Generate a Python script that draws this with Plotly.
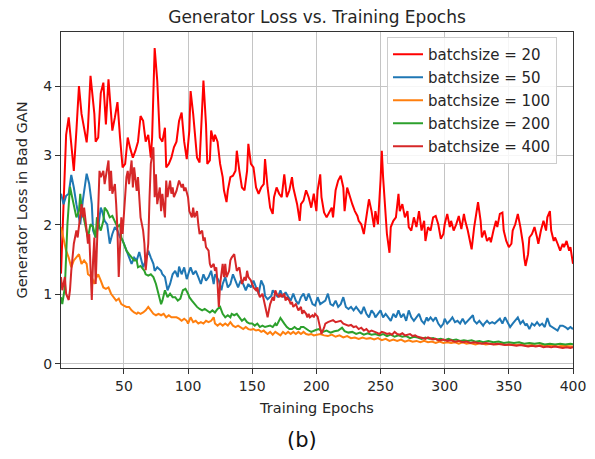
import plotly.graph_objects as go

# ---------------- data (epoch, loss) ----------------
bs20 = [(1,1.30),(3,2.20),(5,3.30),(7,3.55),(9,3.17),(11,2.78),(13,3.36),(15,4.00),(17,3.60),(19,3.40),
        (21,3.19),(22,3.40),(24,4.15),(27,3.60),(28,3.20),(30,3.26),(32,3.90),(34,4.05),(36,3.45),(38,4.10),
        (40,3.60),(41,3.36),(43,3.55),(45,3.77),(47,3.26),(49,2.83),(51,2.88),(53,3.26),(55,3.10),(57,2.97),
        (59,3.07),(61,3.20),(63,3.57),(65,3.50),(67,3.20),(69,3.30),(71,2.97),(72,3.26),(74,4.55),(76,4.08),
        (78,3.26),(80,3.20),(82,3.40),(83,2.83),(85,2.88),(87,2.97),(89,3.12),(91,3.20),(93,3.50),(95,3.62),
        (97,3.20),(99,2.95),(101,3.36),(102,3.93),(104,3.60),(105,3.36),(107,2.97),(109,2.90),(111,3.84),(112,4.08),
        (114,3.45),(115,2.88),(117,2.93),(118,3.36),(120,3.20),(121,3.30),(123,3.20),(125,2.88),(127,2.69),(128,2.50),
        (130,2.33),(131,2.50),(133,2.69),(135,2.71),(137,2.78),(138,3.07),(140,2.78),(142,2.54),(144,2.50),(146,2.78),
        (147,3.17),(149,2.88),(151,2.83),(153,2.54),(155,2.45),(157,2.54),(159,2.59),(160,2.95),(162,2.54),(164,2.25),
        (166,2.16),(167,2.40),(169,2.54),(171,2.45),(173,2.40),(175,2.73),(177,2.40),(179,2.50),(181,2.69),(182,2.54),
        (185,2.30),(187,2.06),(188,2.30),(190,2.35),(192,2.50),(194,2.40),(196,2.25),(198,2.45),(200,2.20),(201,2.50),
        (203,2.73),(204,2.40),(206,2.18),(208,2.11),(210,2.18),(212,2.25),(213,2.11),(215,2.50),(217,2.64),(219,2.71),
        (221,2.54),(222,2.20),(224,2.54),(226,2.40),(228,2.30),(230,2.20),(232,2.13),(233,2.06),(235,2.01),(237,1.87),
        (239,2.11),(241,2.37),(243,2.20),(245,1.97),(246,2.20),(248,2.01),(250,2.64),(251,3.07),(252,2.69),(254,2.11),
        (255,1.87),(257,1.60),(258,1.97),(260,2.06),(262,2.11),(264,2.45),(265,2.20),(267,2.30),(269,2.11),(271,2.20),
        (272,1.97),(274,1.92),(276,2.11),(278,1.97),(280,2.20),(282,1.92),(284,2.06),(285,1.77),(287,1.97),(289,1.92),
        (291,2.11),(293,2.13),(295,2.01),(297,1.80),(299,1.87),(300,2.01),(302,2.16),(304,1.97),(305,2.06),(307,1.92),
        (309,2.01),(311,2.13),(313,1.94),(315,2.16),(316,2.06),(318,1.92),(320,1.73),(321,1.65),(323,1.97),(324,2.11),
        (326,2.33),(328,2.06),(329,1.82),(331,1.92),(333,1.77),(335,1.82),(336,1.75),(338,1.92),(340,2.06),(341,1.97),
        (343,2.16),(345,2.18),(346,1.92),(348,1.77),(350,1.68),(352,1.73),(353,1.92),(355,2.01),(357,2.16),(359,1.97),
        (361,1.73),(362,1.53),(363,1.41),(365,1.58),(366,1.82),(368,1.87),(370,1.97),(372,1.82),(373,1.73),(375,1.92),
        (377,2.06),(379,1.92),(380,2.11),(382,2.20),(383,1.92),(385,1.77),(386,1.82),(388,1.73),(390,1.63),(392,1.73),
        (393,1.68),(395,1.77),(397,1.63),(398,1.68),(400,1.44)]

bs50 = [(1,2.45),(3,2.30),(5,2.42),(7,2.45),(9,2.72),(11,2.54),(13,2.30),(15,2.11),(16,2.01),(18,2.35),
        (20,2.64),(21,2.74),(23,2.59),(25,2.30),(26,1.92),(28,1.82),(30,1.97),(32,2.25),(33,2.20),(35,2.06),
        (37,2.01),(39,1.73),(41,1.87),(43,1.97),(45,1.92),(47,1.82),(49,1.78),(50,1.73),(52,1.63),(54,1.53),
        (56,1.44),(58,1.53),(60,1.49),(62,1.61),(63,1.53),(65,1.39),(67,1.49),(69,1.63),(71,1.53),(73,1.44),
        (74,1.34),(76,1.39),(79,1.34),(80,1.29),(82,1.25),(84,1.06),(86,1.15),(88,1.29),(90,1.34),(92,1.25),
        (93,1.40),(95,1.29),(97,1.39),(99,1.22),(101,1.34),(102,1.39),(104,1.29),(106,1.34),(108,1.25),(110,1.15),
        (112,1.29),(114,1.20),(116,1.25),(118,1.34),(120,1.15),(121,1.29),(124,1.20),(126,1.06),(127,1.15),(129,1.25),
        (131,1.10),(133,1.15),(135,1.29),(137,1.20),(139,1.10),(141,1.20),(143,1.15),(145,1.06),(147,1.15),(149,1.10),
        (151,1.20),(153,1.10),(155,1.01),(157,1.20),(159,1.12),(160,0.98),(162,0.93),(165,0.98),(166,1.06),(168,1.01),
        (170,0.96),(172,1.06),(174,0.96),(176,1.03),(178,0.96),(180,0.91),(182,1.01),(184,0.91),(186,0.86),(188,0.96),
        (190,1.01),(192,0.91),(194,1.01),(195,0.96),(197,0.86),(199,0.84),(201,0.96),(203,0.86),(205,0.89),(207,0.91),
        (209,1.01),(211,0.86),(213,0.84),(215,0.91),(217,0.82),(219,0.86),(221,0.96),(223,0.82),(225,0.79),(227,0.82),
        (229,0.77),(231,0.82),(233,0.77),(235,0.72),(237,0.82),(239,0.72),(241,0.67),(243,0.77),(245,0.72),(246,0.67),
        (248,0.72),(250,0.77),(252,0.67),(254,0.72),(256,0.67),(258,0.62),(260,0.72),(262,0.67),(264,0.77),(266,0.67),
        (268,0.72),(270,0.62),(272,0.77),(274,0.67),(276,0.62),(278,0.67),(280,0.72),(282,0.62),(284,0.58),(286,0.67),
        (287,0.62),(289,0.67),(291,0.62),(293,0.67),(295,0.58),(297,0.53),(299,0.58),(300,0.65),(302,0.58),(304,0.62),
        (306,0.67),(308,0.60),(310,0.62),(312,0.58),(314,0.65),(316,0.58),(318,0.62),(320,0.65),(322,0.70),(323,0.62),
        (325,0.58),(327,0.62),(330,0.55),(331,0.58),(333,0.62),(335,0.58),(337,0.60),(339,0.58),(341,0.62),(343,0.65),
        (345,0.58),(347,0.67),(349,0.60),(351,0.53),(353,0.58),(355,0.62),(357,0.67),(359,0.58),(361,0.62),(363,0.55),
        (364,0.58),(366,0.50),(368,0.58),(370,0.55),(372,0.60),(374,0.55),(376,0.58),(378,0.53),(380,0.66),(382,0.55),
        (384,0.53),(386,0.50),(388,0.48),(390,0.55),(392,0.55),(394,0.53),(396,0.50),(398,0.53),(400,0.50)]

bs100 = [(1,1.97),(3,1.82),(5,1.63),(7,1.53),(9,1.39),(11,1.49),(13,1.53),(15,1.58),(17,1.44),(19,1.49),
         (21,1.44),(22,1.29),(25,1.25),(27,1.15),(28,1.22),(30,1.29),(32,1.20),(34,1.10),(36,1.08),(38,1.10),
         (40,1.01),(42,0.96),(44,0.91),(46,0.94),(48,0.86),(50,0.84),(52,0.82),(54,0.82),(56,0.77),(58,0.74),
         (60,0.72),(61,0.74),(63,0.72),(65,0.74),(67,0.77),(69,0.82),(71,0.77),(73,0.72),(75,0.70),(77,0.72),
         (79,0.70),(81,0.72),(83,0.67),(85,0.70),(87,0.67),(89,0.67),(91,0.67),(93,0.65),(95,0.62),(97,0.65),
         (99,0.62),(100,0.58),(102,0.67),(104,0.60),(106,0.62),(108,0.58),(110,0.60),(112,0.58),(114,0.62),(116,0.60),
         (118,0.62),(120,0.67),(121,0.58),(123,0.55),(125,0.58),(127,0.55),(129,0.58),(131,0.55),(133,0.60),(135,0.55),
         (137,0.53),(139,0.55),(141,0.53),(143,0.50),(145,0.53),(147,0.50),(149,0.49),(151,0.50),(153,0.48),(155,0.49),
         (157,0.46),(159,0.48),(160,0.46),(162,0.43),(164,0.46),(166,0.42),(168,0.46),(170,0.43),(172,0.41),(174,0.46),
         (176,0.43),(178,0.46),(180,0.43),(182,0.46),(184,0.43),(186,0.46),(188,0.43),(190,0.46),(192,0.43),(194,0.42),
         (196,0.43),(198,0.41),(200,0.42),(203,0.43),(206,0.41),(209,0.40),(212,0.42),(215,0.39),(218,0.41),(221,0.38),
         (224,0.40),(227,0.37),(230,0.38),(233,0.36),(236,0.38),(239,0.36),(242,0.37),(245,0.35),(248,0.37),(251,0.34),
         (254,0.36),(257,0.33),(260,0.35),(263,0.33),(266,0.35),(269,0.32),(272,0.34),(275,0.32),(278,0.33),(281,0.31),
         (284,0.33),(287,0.31),(290,0.32),(293,0.30),(296,0.32),(299,0.30),(302,0.31),(305,0.30),(308,0.31),(311,0.29),
         (314,0.31),(317,0.29),(320,0.30),(324,0.28),(328,0.30),(332,0.28),(336,0.29),(340,0.28),(344,0.29),(348,0.27),
         (352,0.28),(356,0.27),(360,0.28),(364,0.26),(368,0.27),(372,0.26),(376,0.27),(380,0.26),(384,0.27),(388,0.25),
         (392,0.26),(396,0.25),(400,0.25)]

bs200 = [(1,0.96),(2,0.86),(4,1.10),(5,1.68),(6,2.01),(8,2.55),(9,2.45),(11,2.30),(13,2.11),(15,2.20),
         (16,2.45),(17,2.25),(19,2.06),(21,1.92),(22,1.82),(24,2.01),(26,1.97),(28,1.82),(29,2.11),(31,1.97),
         (32,1.92),(34,2.06),(35,2.25),(37,2.20),(39,2.11),(41,2.13),(43,2.06),(45,1.97),(47,2.01),(48,1.82),
         (50,1.73),(52,1.63),(54,1.58),(56,1.53),(58,1.49),(60,1.49),(61,1.39),(63,1.41),(66,1.34),(67,1.29),
         (69,1.27),(71,1.29),(73,1.25),(75,1.15),(77,1.01),(79,0.86),(80,0.91),(82,1.06),(84,0.96),(86,1.01),
         (88,0.96),(90,0.96),(92,0.91),(94,0.94),(96,1.06),(98,1.08),(100,1.01),(101,0.96),(103,0.91),(105,0.86),
         (107,0.82),(109,0.79),(111,0.77),(113,0.79),(115,0.77),(117,0.74),(119,0.77),(121,0.74),(123,0.79),(125,0.82),
         (127,0.72),(129,0.67),(131,0.70),(133,0.67),(134,0.72),(136,0.70),(138,0.72),(140,0.67),(142,0.62),(144,0.65),
         (146,0.60),(148,0.58),(150,0.58),(152,0.55),(154,0.58),(156,0.53),(158,0.55),(160,0.53),(162,0.54),(164,0.55),
         (166,0.53),(168,0.58),(169,0.55),(171,0.62),(172,0.66),(175,0.58),(177,0.53),(179,0.50),(181,0.50),(183,0.53),
         (185,0.50),(187,0.50),(188,0.53),(190,0.53),(192,0.50),(194,0.48),(196,0.46),(198,0.48),(200,0.49),(202,0.50),
         (205,0.46),(208,0.48),(211,0.45),(214,0.47),(217,0.48),(220,0.52),(222,0.47),(225,0.45),(228,0.46),(231,0.43),
         (234,0.45),(237,0.42),(240,0.44),(243,0.42),(246,0.43),(249,0.41),(252,0.43),(255,0.40),(258,0.42),(261,0.39),
         (264,0.41),(267,0.39),(270,0.40),(273,0.37),(276,0.39),(279,0.38),(282,0.36),(285,0.38),(288,0.36),(291,0.37),
         (294,0.35),(297,0.36),(300,0.34),(303,0.36),(306,0.34),(309,0.35),(312,0.33),(315,0.34),(318,0.33),(321,0.34),
         (324,0.32),(327,0.33),(330,0.31),(334,0.33),(338,0.31),(342,0.32),(346,0.30),(350,0.31),(354,0.30),(358,0.31),
         (362,0.29),(366,0.30),(370,0.29),(374,0.30),(378,0.28),(382,0.29),(386,0.28),(390,0.29),(394,0.28),(398,0.29),
         (400,0.28)]

bs400 = [(1,1.25),(2,1.06),(4,1.25),(5,1.01),(6,0.96),(7,0.92),(8,1.06),(9,1.34),(11,1.73),(13,1.92),
         (14,1.82),(15,1.97),(17,2.30),(18,2.11),(19,2.25),(21,1.92),(22,1.73),(23,1.87),(25,0.92),(26,1.49),
         (27,1.82),(28,1.15),(30,2.40),(31,2.78),(32,2.69),(34,2.78),(35,2.59),(36,2.73),(38,2.93),(39,2.49),
         (40,2.78),(41,2.45),(43,2.59),(44,2.30),(45,1.92),(46,1.25),(48,2.11),(49,1.87),(50,2.20),(52,2.69),
         (53,2.78),(54,2.59),(56,2.93),(57,2.54),(58,2.83),(60,2.49),(61,2.69),(62,2.40),(63,2.11),(65,1.92),
         (66,1.73),(67,1.35),(69,1.73),(70,2.40),(71,2.88),(73,3.12),(74,2.40),(75,2.73),(76,2.30),(78,2.54),
         (79,2.20),(80,2.45),(82,2.11),(83,2.64),(84,2.40),(86,2.64),(87,2.45),(88,2.54),(89,2.40),(91,2.49),
         (92,2.59),(93,2.64),(95,2.54),(96,2.59),(97,2.49),(98,2.54),(100,2.40),(101,2.20),(103,2.11),(104,2.25),
         (105,2.11),(107,2.20),(108,2.01),(109,1.87),(111,1.92),(112,1.77),(113,1.82),(114,1.68),(116,1.63),(117,1.44),
         (118,1.39),(120,1.44),(121,1.34),(122,1.39),(123,1.15),(124,0.82),(125,1.15),(127,1.44),(128,1.25),(129,1.44),
         (130,1.25),(132,1.34),(133,1.49),(134,1.53),(136,1.58),(137,1.44),(138,1.34),(140,1.39),(141,1.25),(142,1.15),
         (144,1.25),(145,1.20),(146,1.34),(147,1.25),(149,1.20),(150,1.15),(151,1.10),(153,1.06),(154,1.10),(155,1.01),
         (156,0.96),(158,1.01),(159,0.91),(160,0.86),(162,0.67),(163,0.77),(164,0.86),(166,0.96),(167,0.91),(168,1.06),
         (169,1.01),(171,0.96),(172,1.01),(173,0.96),(175,1.01),(176,0.91),(177,0.96),(179,0.91),(180,0.86),(181,0.89),
         (182,0.82),(184,0.86),(185,0.82),(186,0.77),(188,0.82),(189,0.72),(190,0.77),(192,0.72),(193,0.67),(194,0.72),
         (195,0.67),(197,0.70),(198,0.67),(199,0.72),(201,0.68),(202,0.60),(203,0.50),(204,0.43),(206,0.52),(207,0.58),
         (209,0.60),(211,0.62),(213,0.63),(215,0.60),(217,0.61),(219,0.62),(221,0.58),(223,0.57),(225,0.55),(227,0.56),
         (229,0.53),(231,0.54),(233,0.50),(235,0.52),(237,0.48),(239,0.50),(241,0.46),(243,0.48),(245,0.47),(247,0.45),
         (249,0.43),(251,0.46),(253,0.45),(255,0.43),(257,0.44),(259,0.42),(261,0.46),(263,0.43),(265,0.42),(267,0.44),
         (269,0.41),(271,0.42),(273,0.43),(275,0.40),(277,0.41),(279,0.39),(281,0.38),(283,0.37),(285,0.36),(287,0.38),
         (289,0.37),(291,0.35),(293,0.36),(295,0.34),(297,0.34),(299,0.35),(302,0.33),(305,0.34),(308,0.32),(311,0.33),
         (314,0.31),(317,0.32),(320,0.30),(323,0.31),(326,0.30),(329,0.29),(332,0.30),(335,0.29),(338,0.28),(341,0.29),
         (344,0.28),(347,0.27),(350,0.28),(353,0.27),(356,0.26),(359,0.27),(362,0.26),(365,0.25),(368,0.26),(371,0.25),
         (374,0.26),(377,0.24),(380,0.25),(383,0.24),(386,0.25),(389,0.24),(392,0.23),(395,0.24),(398,0.23),(400,0.24)]

series_names = ["batchsize = 20", "batchsize = 50", "batchsize = 100", "batchsize = 200", "batchsize = 400"]
series_data = [bs20, bs50, bs100, bs200, bs400]
series_colors = ["#ff0000", "#1f77b4", "#ff7f0e", "#2ca02c", "#d62728"]

x_ticks = [50, 100, 150, 200, 250, 300, 350, 400]
y_ticks = [0, 1, 2, 3, 4]

FONT = "DejaVu Sans"
TXT = "#262626"

# The page body adds an 8px offset, so the figure is drawn 8px smaller
# and every target pixel position is shifted by -8.
OFF = 8
W, H = 595 - OFF, 459 - OFF
plot_l, plot_r, plot_t, plot_b = 61 - OFF, 573 - OFF, 32 - OFF, 368 - OFF

fig = go.Figure()
for i, (name, data, col) in enumerate(zip(series_names, series_data, series_colors)):
    xs = [p[0] for p in data]
    ys = [p[1] for p in data]
    fig.add_trace(go.Scatter(
        x=xs, y=ys, mode="lines", name=name,
        line=dict(color=col, width=2),
        legendgroup=f"g{i}",
    ))

axis_common = dict(
    showline=True, linecolor="#333333", linewidth=1, mirror=True,
    showgrid=True, gridcolor="#c4c4c4", gridwidth=1,
    ticks="outside", ticklen=5, tickwidth=1, tickcolor="#333333",
    zeroline=False, automargin=False,
    tickfont=dict(family=FONT, size=14, color=TXT),
)

fig.update_xaxes(range=[1, 400], tickvals=x_ticks,
                 title=dict(text="Training Epochs", font=dict(family=FONT, size=14.5, color=TXT), standoff=10),
                 **axis_common)
fig.update_yaxes(range=[-0.06, 4.78], tickvals=y_ticks,
                 title=dict(text="Generator Loss in Bad GAN", font=dict(family=FONT, size=14.5, color=TXT), standoff=12),
                 **axis_common)

fig.update_layout(
    width=W, height=H,
    margin=dict(l=plot_l, r=W - plot_r, t=plot_t, b=H - plot_b, autoexpand=False),
    paper_bgcolor="white", plot_bgcolor="white",
    title=dict(text="Generator Loss vs. Training Epochs", x=(317 - OFF) / W, xanchor="center",
               y=1 - (17 - OFF) / H, yanchor="middle", yref="container",
               font=dict(family=FONT, size=17, color=TXT)),
    legend=dict(x=(387 - 61) / (573 - 61), y=(368 - 37) / (368 - 32),
                xanchor="left", yanchor="top",
                bgcolor="rgba(255,255,255,0.85)", bordercolor="#cccccc", borderwidth=1,
                font=dict(family=FONT, size=15, color=TXT), tracegroupgap=0.5),
    showlegend=True,
    annotations=[dict(text="(b)", x=(302 - 61) / (573 - 61), y=(368 - 440) / (368 - 32),
                      xref="paper", yref="paper",
                      xanchor="center", yanchor="middle", showarrow=False,
                      font=dict(family=FONT, size=21, color="#111111"))],
)

fig.write_html("out.html")
